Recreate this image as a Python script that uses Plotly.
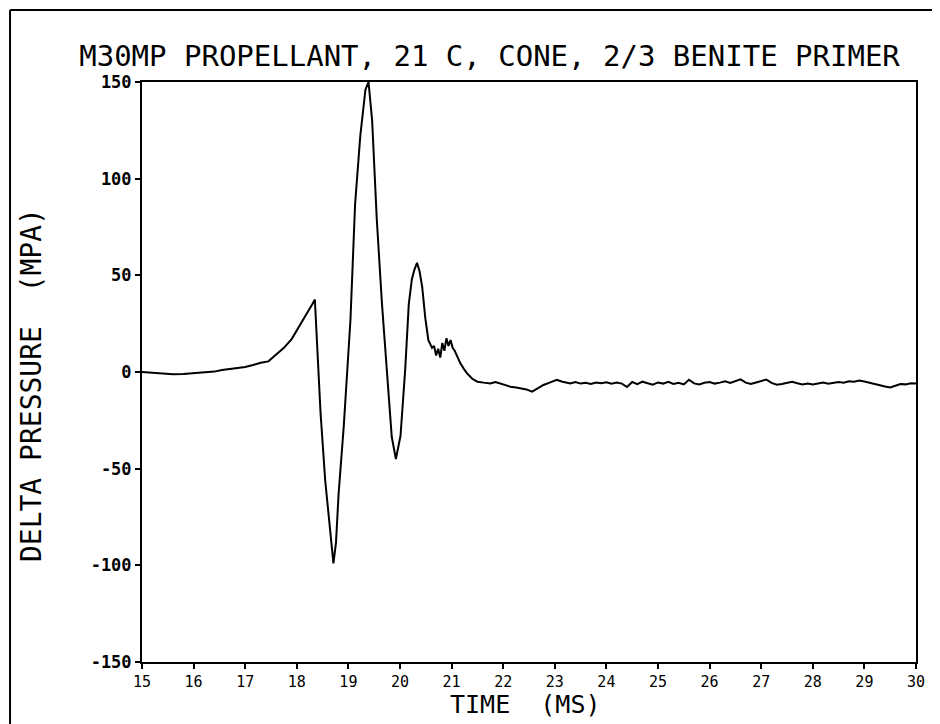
import plotly.graph_objects as go

# Time axis (ms) and pressure trace (MPa)
time_ms = [
    15.00, 15.20, 15.40, 15.60, 15.80, 16.00, 16.20, 16.40, 16.55, 16.70,
    16.85, 17.00, 17.15, 17.30, 17.45, 17.60, 17.75, 17.90, 18.05, 18.20,
    18.30, 18.35, 18.40, 18.46, 18.55, 18.65, 18.71, 18.76, 18.81, 18.91,
    19.00, 19.04, 19.13, 19.23, 19.33, 19.39, 19.46, 19.55, 19.65, 19.75,
    19.84, 19.92, 20.01, 20.10, 20.17, 20.23, 20.28, 20.33, 20.38, 20.43,
    20.49, 20.55, 20.62, 20.66, 20.70, 20.74, 20.78, 20.82, 20.86, 20.90,
    20.94, 20.98, 21.02, 21.06, 21.10, 21.17, 21.24, 21.30, 21.40, 21.50,
    21.62, 21.75, 21.85, 21.94, 22.05, 22.14, 22.25, 22.33, 22.45, 22.56,
    22.66, 22.78, 22.90, 23.04, 23.15, 23.30,
    23.4, 23.5, 23.6, 23.7, 23.8, 23.9, 24.0, 24.1, 24.2, 24.3,
    24.4, 24.5, 24.6, 24.7, 24.8, 24.9, 25.0, 25.1, 25.2, 25.3,
    25.4, 25.5, 25.6, 25.7, 25.8, 25.9, 26.0, 26.1, 26.2, 26.3,
    26.4, 26.5, 26.6, 26.7, 26.8, 26.9, 27.0, 27.1, 27.2, 27.3,
    27.4, 27.5, 27.6, 27.7, 27.8, 27.9, 28.0, 28.1, 28.2, 28.3,
    28.4, 28.5, 28.6, 28.7, 28.8, 28.9, 29.0, 29.1, 29.2, 29.3,
    29.4, 29.5, 29.6, 29.7, 29.8, 29.9, 30.0,
]

delta_pressure = [
    0.0, -0.5, -1.0, -1.2, -1.0, -0.6, -0.3, 0.2, 1.0, 1.6,
    2.0, 2.6, 3.6, 4.8, 5.5, 9.0, 12.5, 17.0, 23.5, 30.5,
    35.0, 37.5, 14.0, -21.0, -56.0, -83.5, -99.0, -88.0, -63.0, -28.0,
    10.0, 27.0, 87.0, 122.0, 146.0, 150.0, 130.0, 79.0, 35.5, 1.0,
    -33.5, -45.0, -33.0, 1.0, 35.0, 48.0, 53.0, 56.5, 52.0, 44.0,
    28.0, 16.5, 12.5, 13.5, 8.5, 12.0, 7.5, 15.0, 11.0, 17.5,
    13.5, 16.5, 12.5, 11.0, 8.5, 4.5, 1.5, -0.7, -3.5, -5.0,
    -5.5, -5.9, -5.2, -6.0, -6.8, -7.6, -8.0, -8.4, -9.0, -10.2,
    -8.5, -6.7, -5.5, -4.1, -5.0, -5.9,
    -5.2, -6.0, -5.6, -6.2, -5.4, -5.8, -5.3, -6.1, -5.5, -6.0,
    -7.8, -5.2, -6.3, -5.0, -5.8, -6.6, -5.4, -6.0, -5.1, -6.2,
    -5.6, -6.4, -4.0, -5.9, -6.5, -5.6, -5.2, -6.0, -5.5, -4.8,
    -5.7, -4.6, -3.8, -5.5, -6.2, -5.4, -4.8, -3.9, -5.6, -6.6,
    -6.2, -5.5, -5.0, -5.8, -6.4, -6.0, -6.5, -5.9, -5.4, -6.1,
    -5.8, -5.2, -5.6, -4.8, -5.0, -4.4, -4.9, -5.6, -6.3, -6.8,
    -7.5, -8.0, -6.9, -6.2, -6.4, -5.8, -5.9,
]

x_ticks = list(range(15, 31))
y_ticks = [-150, -100, -50, 0, 50, 100, 150]
y_tick_labels = ["-150", "-100", "-50", "0", "50", "100", "150"]

FONT = "DejaVu Sans Mono"


def create_pressure_plot():
    """Create the delta pressure vs time trace."""
    fig = go.Figure(go.Scatter(
        x=time_ms,
        y=delta_pressure,
        mode="lines",
        line=dict(color="black", width=2),
        hoverinfo="skip",
    ))

    axis_common = dict(
        showline=True, linecolor="black", linewidth=2, mirror=True,
        showgrid=False, zeroline=False,
        ticks="outside", ticklen=5, tickwidth=1.5, tickcolor="black",
    )

    fig.update_xaxes(
        range=[15, 30], tickvals=x_ticks,
        tickfont=dict(family=FONT, size=15, color="black"),
        **axis_common
    )
    fig.update_yaxes(
        range=[-150, 150], tickvals=y_ticks, ticktext=y_tick_labels,
        tickfont=dict(family=FONT, size=17, color="black", weight="bold"),
        **axis_common
    )

    # page body adds an 8px offset, so the figure is 8px smaller than the window
    fig.update_layout(
        width=932, height=716,
        margin=dict(l=134, r=24, t=74, b=62),
        paper_bgcolor="white", plot_bgcolor="white",
        showlegend=False,
        title=dict(
            text="M30MP PROPELLANT, 21 C, CONE, 2/3 BENITE PRIMER",
            font=dict(family=FONT, size=29, color="black"),
            xref="paper", x=0.449, xanchor="center",
            yref="container", y=0.933, yanchor="middle",
        ),
    )

    # axis titles placed as annotations to match the plotter layout
    fig.add_annotation(
        text="TIME\u00a0\u00a0(MS)", xref="paper", yref="paper",
        x=0.495, y=-0.0725, xanchor="center", yanchor="middle",
        showarrow=False,
        font=dict(family=FONT, size=25, color="black"),
    )
    fig.add_annotation(
        text="DELTA PRESSURE\u00a0\u00a0(MPA)", xref="paper", yref="paper",
        x=-0.143, y=0.478, xanchor="center", yanchor="middle",
        showarrow=False, textangle=-90,
        font=dict(family=FONT, size=28, color="black"),
    )

    # page border from the scanned sheet (left and top edges)
    fig.add_shape(type="line", xref="paper", yref="paper",
                  x0=-0.1705, x1=-0.1705, y0=-0.11, y1=1.124,
                  line=dict(color="black", width=2))
    fig.add_shape(type="line", xref="paper", yref="paper",
                  x0=-0.1705, x1=1.03, y0=1.124, y1=1.124,
                  line=dict(color="black", width=2))

    return fig


fig = create_pressure_plot()
fig.write_html("out.html")
